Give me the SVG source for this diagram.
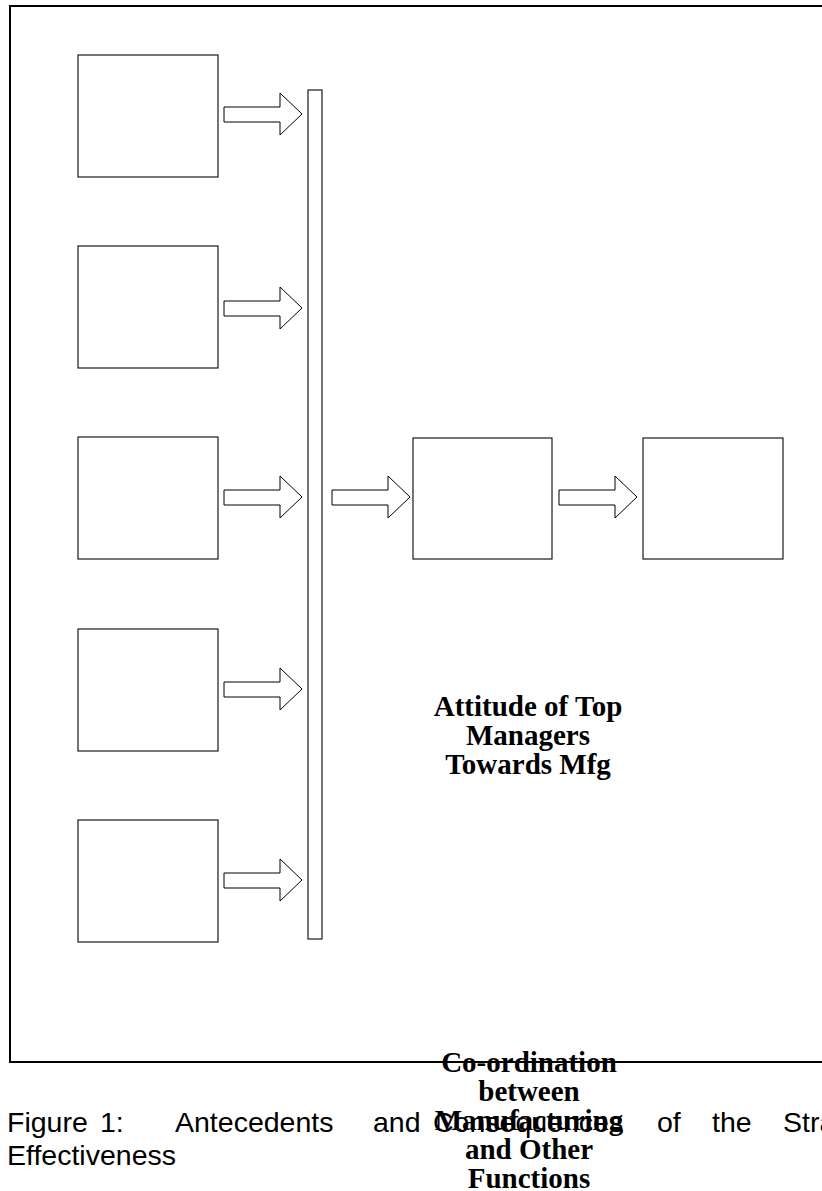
<svg xmlns="http://www.w3.org/2000/svg" xmlns:xlink="http://www.w3.org/1999/xlink" width="822" height="1191" viewBox="0 0 822 1191">
<style>
.box{fill:#fff;stroke:#1a1a1a;stroke-width:1.2}
.arrow{fill:#fff;stroke:#000;stroke-width:1}
.frame{fill:none;stroke:#000;stroke-width:2}
.lbl{font-family:"Liberation Serif","Times New Roman",serif;font-weight:bold;font-size:29px;fill:#000;text-anchor:middle}
.cap{font-family:"Liberation Sans",Arial,sans-serif;font-size:28.5px;fill:#000}
</style>
<defs>
<path id="blockArrow" d="M0,-7 L56,-7 L56,-21 L78,0 L56,21 L56,8 L0,8 Z"/>
</defs>
<rect width="822" height="1191" fill="#fff"/>
<path class="frame" d="M824,6 L10,6 L10,1062 L824,1062"/>
<g id="node-a1"><rect class="box" x="78" y="55" width="140" height="122"/></g>
<g id="node-a2"><rect class="box" x="78" y="246" width="140" height="122"/></g>
<g id="node-a3"><rect class="box" x="78" y="437" width="140" height="122"/></g>
<g id="node-a4"><rect class="box" x="78" y="629" width="140" height="122"/></g>
<g id="node-a5"><rect class="box" x="78" y="820" width="140" height="122"/></g>
<g id="node-bar"><rect class="box" x="308" y="90" width="14" height="849"/></g>
<g id="node-attitude"><rect class="box" x="413" y="438" width="139" height="121"/>
<text class="lbl" x="528" y="716">Attitude of Top</text>
<text class="lbl" x="528" y="745">Managers</text>
<text class="lbl" x="528" y="774">Towards Mfg</text>
</g>
<g id="node-coordination"><rect class="box" x="643" y="438" width="140" height="121"/>
<text class="lbl" x="529" y="1072">Co-ordination</text>
<text class="lbl" x="529" y="1101">between</text>
<text class="lbl" x="529" y="1130">Manufacturing</text>
<text class="lbl" x="529" y="1159">and Other</text>
<text class="lbl" x="529" y="1188">Functions</text>
</g>
<g id="connectors">
<use class="arrow" xlink:href="#blockArrow" href="#blockArrow" x="224" y="114"/>
<use class="arrow" xlink:href="#blockArrow" href="#blockArrow" x="224" y="308"/>
<use class="arrow" xlink:href="#blockArrow" href="#blockArrow" x="224" y="497"/>
<use class="arrow" xlink:href="#blockArrow" href="#blockArrow" x="224" y="689"/>
<use class="arrow" xlink:href="#blockArrow" href="#blockArrow" x="224" y="880"/>
<use class="arrow" xlink:href="#blockArrow" href="#blockArrow" x="332" y="497"/>
<use class="arrow" xlink:href="#blockArrow" href="#blockArrow" x="559" y="497"/>
</g>
<g id="caption">
<text class="cap" x="7" y="1132">Figure</text>
<text class="cap" x="100" y="1132">1:</text>
<text class="cap" x="175" y="1132">Antecedents</text>
<text class="cap" x="373" y="1132">and</text>
<text class="cap" x="433" y="1132">Consequences</text>
<text class="cap" x="657" y="1132">of</text>
<text class="cap" x="712" y="1132">the</text>
<text class="cap" x="783" y="1132">Strategic</text>
<text class="cap" x="7" y="1165">Effectiveness</text>
</g>
</svg>
